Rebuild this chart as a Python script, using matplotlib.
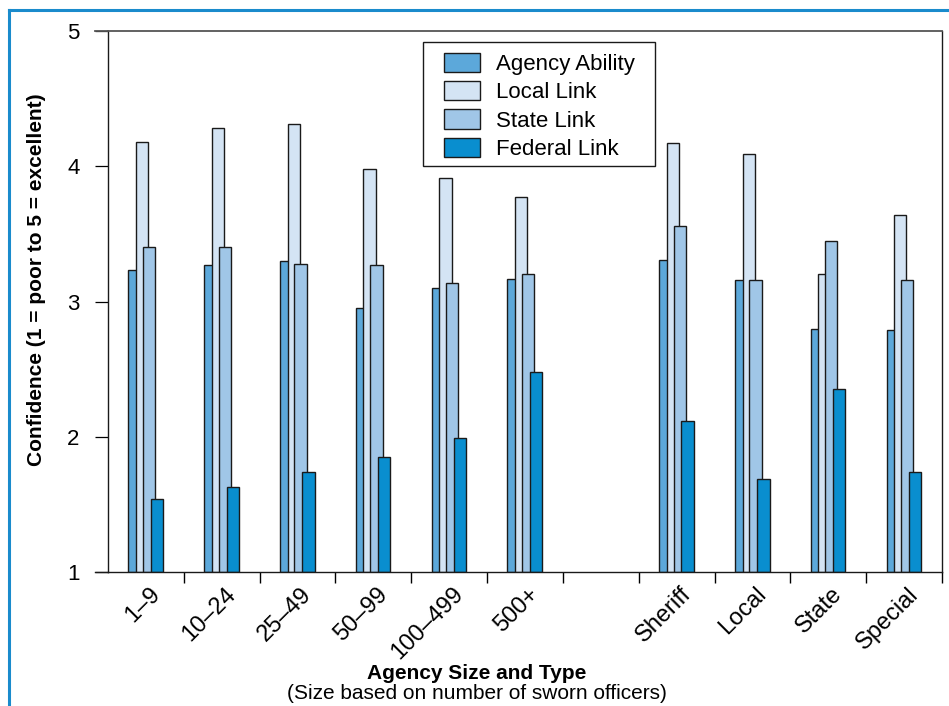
import numpy as np
import matplotlib
matplotlib.use("Agg")
import matplotlib.pyplot as plt
from matplotlib.lines import Line2D
from matplotlib.patches import Rectangle

# Dane (skala 1-5), pusty slot miedzy grupami
categories = ["1–9", "10–24", "25–49", "50–99", "100–499", "500+", "",
              "Sheriff", "Local", "State", "Special"]
agency_ability = [3.23, 3.27, 3.30, 2.95, 3.10, 3.17, np.nan, 3.31, 3.16, 2.80, 2.79]
local_link = [4.18, 4.28, 4.31, 3.98, 3.91, 3.77, np.nan, 4.17, 4.09, 3.20, 3.64]
state_link = [3.40, 3.40, 3.28, 3.27, 3.14, 3.20, np.nan, 3.56, 3.16, 3.45, 3.16]
federal_link = [1.54, 1.63, 1.74, 1.85, 1.99, 2.48, np.nan, 2.12, 1.69, 2.35, 1.74]
series_names = ["Agency Ability", "Local Link", "State Link", "Federal Link"]
y_ticks = [1, 2, 3, 4, 5]

plt.rcParams['font.family'] = ['Liberation Sans', 'DejaVu Sans']

W, H = 949, 706
fig = plt.figure(figsize=(W / 100, H / 100), dpi=100)

# polozenie osi w pikselach
x0, x1, y_top, y_bot = 108, 942, 31, 572
ax = fig.add_axes([x0 / W, 1 - y_bot / H, (x1 - x0) / W, (y_bot - y_top) / H])

colors = ["#5ca8da", "#d4e4f4", "#a0c6e7", "#098ecf"]
offsets = [-0.15, -0.05, 0.04, 0.145]
width = 0.162
centers = np.arange(len(categories)) + 0.5

for vals, name, col, off in zip([agency_ability, local_link, state_link, federal_link],
                                 series_names, colors, offsets):
    v = np.array(vals, dtype=float)
    ax.bar(centers + off, v - 1, bottom=1, width=width, color=col,
           edgecolor="#1a1a1a", linewidth=1.0, label=name)

ax.set_xlim(0, len(categories))
ax.set_ylim(1, 5)
ax.set_yticks(y_ticks)
ax.tick_params(axis='y', direction='out', length=9.4, width=0.9, pad=11, labelsize=16)

# znaczniki na granicach slotow, etykiety (lekko przesuniete w prawo) w srodku
ax.set_xticks(np.arange(1, len(categories) + 1))
ax.set_xticklabels([])
ax.tick_params(axis='x', which='major', direction='out', length=8, width=1.0)
ax.set_xticks(centers + 0.04, minor=True)
ax.set_xticklabels(categories, minor=True, rotation=45, ha='right', va='top',
                   rotation_mode='anchor', fontsize=17)
ax.tick_params(axis='x', which='minor', length=0, pad=8)

ax.spines['top'].set_color("#555555")
ax.spines['top'].set_linewidth(1.3)
for s in ['left', 'right', 'bottom']:
    ax.spines[s].set_color("#1a1a1a")
    ax.spines[s].set_linewidth(1.0)

# gorna i dolna linia wystaja w lewo poza os Y
ext = 13 / (x1 - x0)
for yy, c, lw in [(0, "#1a1a1a", 1.0), (1, "#555555", 1.3)]:
    ax.plot([-ext, 0], [yy, yy], transform=ax.transAxes, color=c, lw=lw, clip_on=False)

# legenda bez ramki + osobny prostokat
leg = ax.legend(loc='upper left', bbox_to_anchor=((444 - x0) / (x1 - x0), (y_bot - 53) / (y_bot - y_top)),
                frameon=False, fontsize=16, borderpad=0, borderaxespad=0,
                handlelength=1.62, handleheight=0.95, labelspacing=0.27, handletextpad=0.7)
ax.add_patch(Rectangle(((423 - x0) / (x1 - x0), (y_bot - 166) / (y_bot - y_top)),
                       (655 - 423) / (x1 - x0), (166 - 41.7) / (y_bot - y_top),
                       transform=ax.transAxes, fill=False, edgecolor="#1a1a1a",
                       linewidth=1.0, clip_on=False, zorder=5))

# opisy osi
fig.text(37 / W, 1 - 280 / H, "Confidence (1 = poor to 5 = excellent)", rotation=90,
         ha='center', va='center', fontsize=15, fontweight='bold')
fig.text(477 / W, 1 - 679 / H, "Agency Size and Type", ha='center', va='baseline',
         fontsize=15, fontweight='bold')
fig.text(477 / W, 1 - 699 / H, "(Size based on number of sworn officers)", ha='center',
         va='baseline', fontsize=15)

# niebieska ramka (gora i lewo)
frame_c = "#1a8bcc"
fig.add_artist(Line2D([9 / W, 1], [1 - 10 / H, 1 - 10 / H], color=frame_c, lw=2.2))
fig.add_artist(Line2D([9 / W, 9 / W], [0, 1 - 10 / H], color=frame_c, lw=2.2))

fig.savefig("out.png", dpi=100)
